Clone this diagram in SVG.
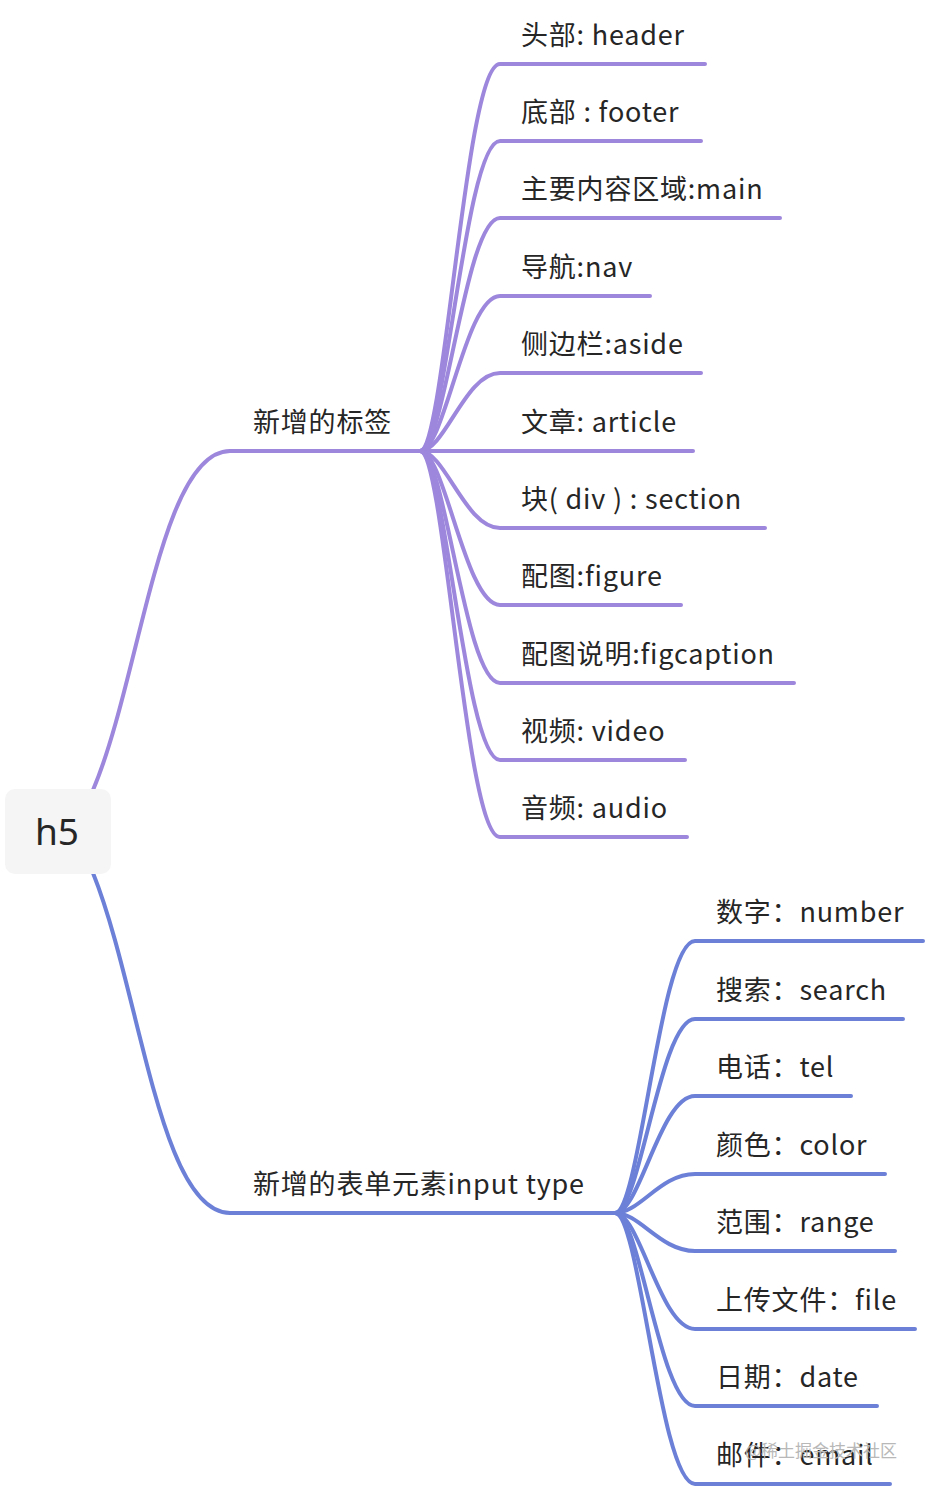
<svg xmlns="http://www.w3.org/2000/svg" width="926" height="1490" viewBox="0 0 926 1490">
<style>
.t{font-family:"Noto Sans CJK SC","Noto Sans",sans-serif;font-size:27px;fill:#262626;letter-spacing:0.8px}
.p{fill:none;stroke:#9d87dd;stroke-width:4;stroke-linecap:round}
.b{fill:none;stroke:#6c80d8;stroke-width:4;stroke-linecap:round}
.wm{font-family:"Noto Sans CJK SC",sans-serif;font-size:17px;fill:#b8b8b8}
</style>
<rect width="926" height="1490" fill="#ffffff"/>
<g id="connectors">
<path class="p" d="M93 790 C140 680 160 451 230 451 L420 451"/>
<path class="b" d="M93 873 C140 990 160 1213 230 1213 L615 1213"/>
<g id="c-tags">
<path class="p" d="M420 451 C445 451 465 64 500 64 L705 64"/>
<path class="p" d="M420 451 C445 451 465 141 500 141 L701 141"/>
<path class="p" d="M420 451 C445 451 465 218 500 218 L780 218"/>
<path class="p" d="M420 451 C445 451 465 296 500 296 L650 296"/>
<path class="p" d="M420 451 C445 451 465 373 500 373 L701 373"/>
<path class="p" d="M420 451 L693 451"/>
<path class="p" d="M420 451 C445 451 465 528 500 528 L765 528"/>
<path class="p" d="M420 451 C445 451 465 605 500 605 L681 605"/>
<path class="p" d="M420 451 C445 451 465 683 500 683 L794 683"/>
<path class="p" d="M420 451 C445 451 465 760 500 760 L685 760"/>
<path class="p" d="M420 451 C445 451 465 837 500 837 L687 837"/>
</g>
<g id="c-input">
<path class="b" d="M615 1213 C640 1213 660 941 695 941 L923 941"/>
<path class="b" d="M615 1213 C640 1213 660 1019 695 1019 L903 1019"/>
<path class="b" d="M615 1213 C640 1213 660 1096 695 1096 L851 1096"/>
<path class="b" d="M615 1213 C640 1213 660 1174 695 1174 L885 1174"/>
<path class="b" d="M615 1213 C640 1213 660 1251 695 1251 L895 1251"/>
<path class="b" d="M615 1213 C640 1213 660 1329 695 1329 L915 1329"/>
<path class="b" d="M615 1213 C640 1213 660 1406 695 1406 L877 1406"/>
<path class="b" d="M615 1213 C640 1213 660 1484 695 1484 L890 1484"/>
</g>
</g>
<g id="root">
<rect x="5" y="789" width="106" height="85" rx="10" fill="#f5f5f5"/>
<text x="57" y="845" text-anchor="middle" style="font-family:'Noto Sans','Noto Sans CJK SC',sans-serif;font-size:37px;fill:#262626">h5</text>
</g>
<g id="n-tags"><text class="t" x="253" y="432">新增的标签</text></g>
<g id="n-input"><text class="t" x="253" y="1194">新增的表单元素input type</text></g>
<g id="n-header"><text class="t" x="521" y="45">头部: header</text></g>
<g id="n-footer"><text class="t" x="521" y="122">底部 : footer</text></g>
<g id="n-main"><text class="t" x="521" y="199">主要内容区域:main</text></g>
<g id="n-nav"><text class="t" x="521" y="277">导航:nav</text></g>
<g id="n-aside"><text class="t" x="521" y="354">侧边栏:aside</text></g>
<g id="n-article"><text class="t" x="521" y="432">文章: article</text></g>
<g id="n-section"><text class="t" x="521" y="509">块( div ) : section</text></g>
<g id="n-figure"><text class="t" x="521" y="586">配图:figure</text></g>
<g id="n-figcaption"><text class="t" x="521" y="664">配图说明:figcaption</text></g>
<g id="n-video"><text class="t" x="521" y="741">视频: video</text></g>
<g id="n-audio"><text class="t" x="521" y="818">音频: audio</text></g>
<g id="n-number"><text class="t" x="716" y="922">数字：number</text></g>
<g id="n-search"><text class="t" x="716" y="1000">搜索：search</text></g>
<g id="n-tel"><text class="t" x="716" y="1077">电话：tel</text></g>
<g id="n-color"><text class="t" x="716" y="1155">颜色：color</text></g>
<g id="n-range"><text class="t" x="716" y="1232">范围：range</text></g>
<g id="n-file"><text class="t" x="716" y="1310">上传文件：file</text></g>
<g id="n-date"><text class="t" x="716" y="1387">日期：date</text></g>
<g id="n-email"><text class="t" x="716" y="1465">邮件：email</text></g>
<text class="wm" x="745" y="1457">@稀土掘金技术社区</text>
</svg>
